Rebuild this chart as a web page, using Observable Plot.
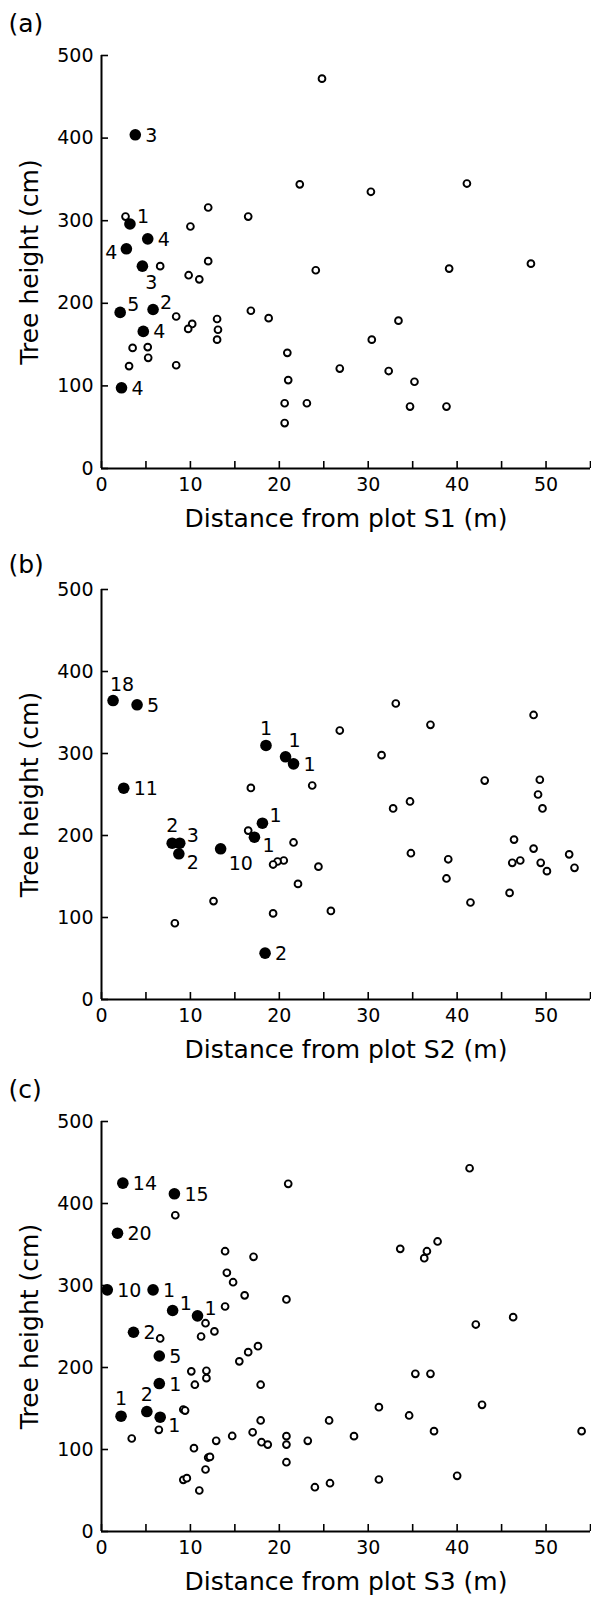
<!DOCTYPE html>
<html><head><meta charset="utf-8">
<script src="https://cdn.jsdelivr.net/npm/d3@7"></script>
<script src="https://cdn.jsdelivr.net/npm/@observablehq/plot@0.6"></script>
<style>
html,body{margin:0;padding:0;background:#fff;}
#chart svg{display:block;}
</style></head><body><div id="chart"></div>
<script>
// ---- axes / text ----
const xTicks = [0,5,10,15,20,25,30,35,40,45,50,55];
const xTickLabels = [0,10,20,30,40,50];
const yTicks = [0,100,200,300,400,500];
const panelLabels = ["(a)","(b)","(c)"];
const xTitles = ["Distance from plot S1 (m)","Distance from plot S2 (m)","Distance from plot S3 (m)"];
const yTitle = "Tree height (cm)";

// ---- panel (a) ----
const aOpenX = [2.7,10.0,12.0,16.5,22.3,24.8,30.3,41.1,6.6,12.0,9.8,11.0,24.1,39.1,48.3,8.4,10.2,9.75,13.0,13.1,13.0,16.8,18.8,33.4,3.5,5.2,5.25,3.1,8.4,20.9,21.0,30.4,26.8,32.3,35.2,20.6,23.1,20.6,34.7,38.8];
const aOpenY = [305,293,316,305,344,472,335,345,245,251,234,229,240,242,248,184,175,169,181,168,156,191,182,179,146,147,134,124,125,140,107,156,121,118,105,79,79,55,75,75];
const aFilledX = [3.8,3.2,5.2,2.8,4.6,2.1,5.8,4.7,2.25];
const aFilledY = [404,296,278,266,245,189,192.5,166,97.7];
const aCount = [3,1,4,4,3,5,2,4,4];
const aPlace = ["e","ne","e","w","s","ne","ne","e","e"];

// ---- panel (b) ----
const bOpenX = [16.8,33.1,26.8,37.0,48.6,31.5,23.7,43.1,49.3,49.1,32.8,34.7,49.6,21.6,20.5,19.8,19.3,24.4,22.1,25.8,34.8,39.0,38.8,41.5,46.4,46.2,47.1,45.9,48.6,49.4,50.1,52.6,53.2,16.5,12.6,19.3,8.25];
const bOpenY = [258,361,328,335,347,298,261,267,268,250,233,241.5,233,191.5,169.5,168.3,164.6,162,141,108,178.4,171,147.6,118.3,195,166.7,169.5,130,184,166.7,156.5,177,160.6,206,120,105,93];
const bFilledX = [1.3,4.0,18.5,20.7,21.6,2.5,7.95,8.8,8.7,13.4,18.1,17.2,18.4];
const bFilledY = [364.6,359.4,309.8,296,287.4,257.7,190.6,190.6,177.7,183.8,215,197.9,56.5];
const bCount = [18,5,1,1,1,11,2,3,2,10,1,1,2];
const bPlace = ["nne","e","n","nne","e","e","n","ne","se","sse","ne","se","e"];

// ---- panel (c) ----
const cOpenX = [8.3,21.0,41.4,33.6,36.6,36.3,37.8,13.9,17.1,14.1,14.8,16.1,20.8,13.9,11.7,12.7,11.2,6.6,17.6,16.5,15.5,10.1,11.8,11.8,10.5,17.9,42.1,46.3,35.3,37.0,6.45,3.4,9.2,9.4,17.9,17.0,14.7,12.9,10.4,18.0,18.7,20.8,20.8,20.8,23.2,25.6,28.4,31.2,34.6,37.4,42.8,54.0,12.0,12.2,11.7,9.2,9.6,11.0,24.0,25.7,31.2,40.0];
const cOpenY = [385.7,424,443,344.7,341.8,333.3,353.7,341.8,335,315.5,304,288,283,274.4,254,244,237.8,235.4,226,218.7,207.5,195.3,196,187,179,179,252.4,261.4,192.3,192.3,124,113.4,148.8,147.5,135.4,121,116.5,110.6,101.6,108.9,106,116.3,106,84.5,110.6,135.4,116.3,151.6,141.5,122.4,154.5,122.4,90.2,91,75.6,63,65,50,54,58.9,63.4,67.9];
const cFilledX = [2.4,8.2,1.8,0.65,5.8,8.0,10.8,3.6,6.5,6.5,2.2,5.1,6.6];
const cFilledY = [424.8,411.8,363.8,294.7,294.7,269.5,263,243,214,180.4,140.6,146.3,139.4];
const cCount = [14,15,20,10,1,1,1,2,5,1,1,2,1];
const cPlace = ["e","e","e","e","e","ne","ne","e","e","e","n","n","se"];

// label placement codes -> [textAnchor, dx, dy]
const placeStyle = {
  e: ["start", 10, 1], ne: ["start", 7, -7], n: ["middle", 0, -17],
  nne: ["middle", 9, -16], se: ["start", 8, 9], sse: ["start", 8, 15],
  s: ["middle", 9, 17], w: ["end", -9, 4]
};

const FONT = "DejaVu Sans";

function panel(i, openX, openY, filledX, filledY, count, place, height, mTop, mBottom, labelDy) {
  const open = openX.map((x, k) => ({x, y: openY[k]}));
  const filled = filledX.map((x, k) => ({x, y: filledY[k], n: String(count[k]), p: place[k]}));
  const labelMarks = Object.keys(placeStyle).map(code => {
    const [anchor, dx, dy] = placeStyle[code];
    return Plot.text(filled.filter(d => d.p === code), {
      x: "x", y: "y", text: "n", textAnchor: anchor, dx, dy,
      lineAnchor: "middle", fontSize: 19, fill: "black"
    });
  });
  return Plot.plot({
    width: 591, height, marginTop: mTop, marginBottom: mBottom, marginLeft: 101, marginRight: 1,
    x: {domain: [0, 55], label: null},
    y: {domain: [0, 500], label: null},
    style: {fontFamily: FONT, fontSize: "19px", color: "black", background: "white", overflow: "visible"},
    marks: [
      Plot.axisY(yTicks, {tickSize: -7, tickPadding: 15, strokeWidth: 1.6, fontSize: 19, label: null}),
      Plot.axisX(xTicks, {tickSize: -7, tickPadding: 16, strokeWidth: 1.6, fontSize: 19, label: null,
        tickFormat: d => xTickLabels.includes(d) ? String(d) : ""}),
      Plot.ruleX([0], {y1: 0, y2: 500, strokeWidth: 2, stroke: "black"}),
      Plot.ruleY([0], {x1: 0, x2: 55, strokeWidth: 2, stroke: "black"}),
      Plot.dot(open, {x: "x", y: "y", r: 3.4, stroke: "black", strokeWidth: 1.9, fill: "white"}),
      Plot.dot(filled, {x: "x", y: "y", r: 5.8, fill: "black", stroke: "none"}),
      ...labelMarks,
      Plot.text([panelLabels[i]], {frameAnchor: "top-left", dx: -93, dy: labelDy, textAnchor: "start", lineAnchor: "bottom", fontSize: 25}),
      Plot.text([yTitle], {frameAnchor: "left", dx: -72, rotate: -90, textAnchor: "middle", lineAnchor: "middle", fontSize: 25}),
      Plot.text([xTitles[i]], {frameAnchor: "bottom", dy: 58, textAnchor: "middle", lineAnchor: "bottom", fontSize: 25})
    ]
  });
}

const root = document.getElementById("chart");
root.append(panel(0, aOpenX, aOpenY, aFilledX, aFilledY, aCount, aPlace, 533, 55, 65, -24));
root.append(panel(1, bOpenX, bOpenY, bFilledX, bFilledY, bCount, bPlace, 532, 56, 66, -17));
root.append(panel(2, cOpenX, cOpenY, cFilledX, cFilledY, cCount, cPlace, 537, 56, 71, -24));
</script></body></html>
